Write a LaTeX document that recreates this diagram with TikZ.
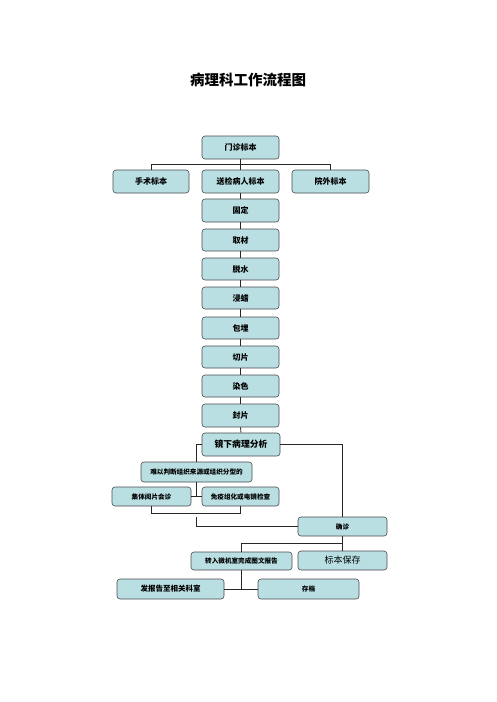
\documentclass[tikz,border=0pt]{standalone}
\usepackage{fontspec}
\newfontfamily\cjk{Noto Sans CJK SC}
\usetikzlibrary{calc}
\definecolor{boxfill}{HTML}{B9DFE3}
\definecolor{boxline}{HTML}{4A4A4A}
\tikzset{
  box/.style={draw=boxline, fill=boxfill, rounded corners=3pt, line width=0.6pt,
    inner sep=0pt, font=\cjk\bfseries\fontsize{8}{9}\selectfont, text=black},
  bigbox/.style={box, minimum width=77pt, minimum height=23pt},
  smallbox/.style={box, minimum height=19pt, font=\cjk\bfseries\fontsize{6.6}{8}\selectfont},
  conn/.style={draw=black!85, line width=0.8pt}
}
\begin{document}
\begin{tikzpicture}[x=1pt,y=-1pt]
\useasboundingbox (0,0) rectangle (496,702);
\node[font=\cjk\bfseries\fontsize{14.5}{16}\selectfont] (title) at (248,80) {病理科工作流程图};

\node[bigbox] (mz) at (240.5,147.5) {门诊标本};
\node[bigbox, minimum width=76pt] (ss) at (151,181.5) {手术标本};
\node[bigbox] (sj) at (240.5,181.5) {送检病人标本};
\node[bigbox] (yw) at (330.5,181.5) {院外标本};
\node[bigbox] (gd) at (240.5,210.5) {固定};
\node[bigbox, minimum height=22pt] (qc) at (240.5,240) {取材};
\node[bigbox, minimum height=22pt] (ts) at (240.5,269) {脱水};
\node[bigbox, minimum height=22pt] (jl) at (240.5,298) {浸蜡};
\node[bigbox, minimum height=22pt] (bm) at (240.5,328) {包埋};
\node[bigbox, minimum height=22pt] (qp) at (240.5,357) {切片};
\node[bigbox, minimum height=22pt] (rs) at (240.5,386) {染色};
\node[bigbox] (fp) at (240.5,415.5) {封片};
\node[bigbox, minimum width=78pt, font=\cjk\bfseries\fontsize{8.8}{10}\selectfont] (jx) at (241,444.5) {镜下病理分析};

\node[smallbox, minimum width=111pt, minimum height=20pt] (nj) at (196.5,472) {难以判断组织来源或组织分型的};
\node[smallbox, minimum width=79pt] (jt) at (151.5,496.5) {集体阅片会诊};
\node[smallbox, minimum width=77pt] (my) at (240.5,496.5) {免疫组化或电镜检查};
\node[smallbox, minimum width=89pt] (qz) at (342.5,526.5) {确诊};
\node[smallbox, minimum width=101pt, minimum height=18pt] (zr) at (241.5,561) {转入微机室完成图文报告};
\node[smallbox, minimum width=89pt, font=\cjk\fontsize{9}{10}\selectfont] (bb) at (342.5,560.5) {标本保存};
\node[smallbox, minimum width=107pt, minimum height=20pt, font=\cjk\bfseries\fontsize{7.5}{9}\selectfont] (fb) at (170.5,589) {发报告至相关科室};
\node[smallbox, minimum width=101pt, minimum height=20pt] (cd) at (308.5,589) {存档};

% connectors
\draw[conn] (mz.south) -- (sj.north);
\draw[conn] (ss.north) |- ($(mz.south)!0.5!(sj.north)$) -| (yw.north);
\draw[conn] (sj.south) -- (gd.north);
\draw[conn] (gd.south) -- (qc.north);
\draw[conn] (qc.south) -- (ts.north);
\draw[conn] (ts.south) -- (jl.north);
\draw[conn] (jl.south) -- (bm.north);
\draw[conn] (bm.south) -- (qp.north);
\draw[conn] (qp.south) -- (rs.north);
\draw[conn] (rs.south) -- (fp.north);
\draw[conn] (fp.south) -- (jx.north);
\draw[conn] (jx.east) -| (qz.north);
\draw[conn] (jx.west) -| (nj.north);
\draw[conn] (nj.south) -- (nj.south |- jt.east);
\draw[conn] (jt.east) -- (my.west);
\draw[conn] (jt.south) -- ++(0,7) -| (my.south);
\coordinate (br) at (196.5,517);
\draw[conn] (br) |- (qz.west);
\draw[conn] (qz.south) -- (bb.north);
\draw[conn] (zr.north) |- ($(qz.south)!0.5!(bb.north)$);
\draw[conn] (zr.south) -- (zr.south |- fb.east);
\draw[conn] (fb.east) -- (cd.west);
\end{tikzpicture}
\end{document}
